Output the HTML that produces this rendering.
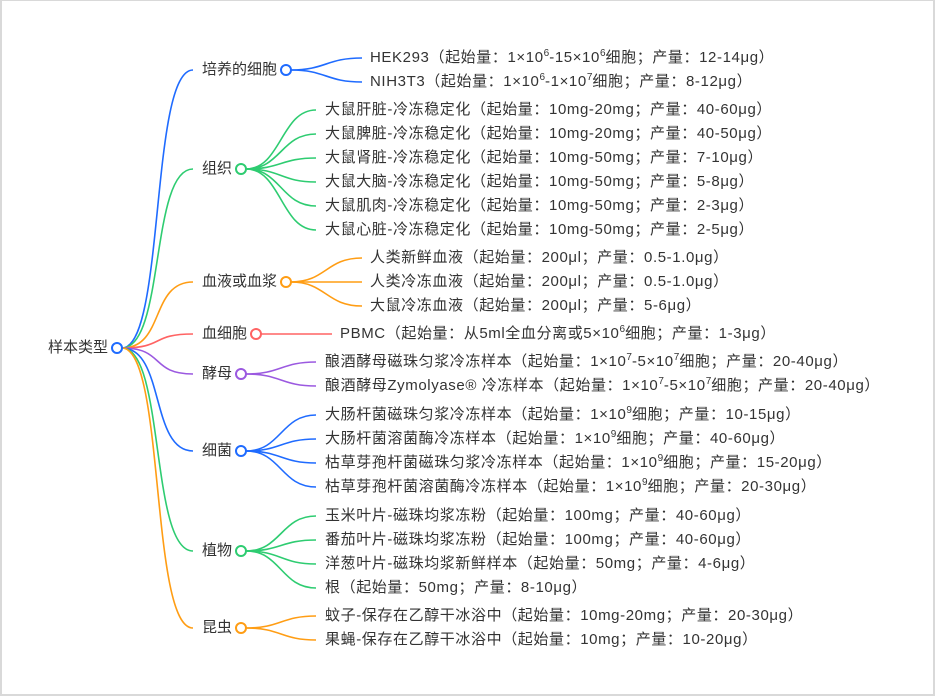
<!DOCTYPE html>
<html><head><meta charset="utf-8"><style>
body{margin:0;width:935px;height:699px;background:#fff;position:relative;overflow:hidden;font-family:"Liberation Sans","Noto Sans CJK SC",sans-serif;}
.f{position:absolute;left:0;top:0;width:931px;height:693px;border:2px solid #d9d9d9;border-top-width:1px;}
.t{position:absolute;font-size:15px;line-height:20px;color:#333;white-space:nowrap;}
.l{letter-spacing:0.6px;}
sup{font-size:10px;vertical-align:0;position:relative;top:-6px;letter-spacing:0;}
svg{position:absolute;left:0;top:0;}
</style></head><body>
<div class="f"></div>
<svg width="935" height="699" fill="none" stroke-width="1.6">
<g>
<path d="M122,348 C165,348 150,70 193,70" stroke="#1f6bff"/>
<path d="M122,348 C165,348 150,169 193,169" stroke="#2ecc71"/>
<path d="M122,348 C165,348 150,282 193,282" stroke="#ff9d14"/>
<path d="M122,348 C165,348 150,334 193,334" stroke="#ff6363"/>
<path d="M122,348 C165,348 150,374 193,374" stroke="#9b59e0"/>
<path d="M122,348 C165,348 150,451 193,451" stroke="#1f6bff"/>
<path d="M122,348 C165,348 150,551 193,551" stroke="#2ecc71"/>
<path d="M122,348 C165,348 150,628 193,628" stroke="#ff9d14"/>
</g>
<g stroke="#1f6bff">
<path d="M291,70 C326,70 326,58 362,58"/><path d="M291,70 C326,70 326,82 362,82"/>
</g>
<g stroke="#2ecc71">
<path d="M246,169 C281,169 281,110 316,110"/><path d="M246,169 C281,169 281,134 316,134"/><path d="M246,169 C281,169 281,158 316,158"/><path d="M246,169 C281,169 281,182 316,182"/><path d="M246,169 C281,169 281,206 316,206"/><path d="M246,169 C281,169 281,230 316,230"/>
</g>
<g stroke="#ff9d14">
<path d="M291,282 C326,282 326,258 362,258"/><path d="M291,282 L362,282"/><path d="M291,282 C326,282 326,306 362,306"/>
</g>
<path d="M261,334 L332,334" stroke="#ff6363"/>
<g stroke="#9b59e0">
<path d="M246,374 C281,374 281,362 316,362"/><path d="M246,374 C281,374 281,386 316,386"/>
</g>
<g stroke="#1f6bff">
<path d="M246,451 C281,451 281,415 316,415"/><path d="M246,451 C281,451 281,439 316,439"/><path d="M246,451 C281,451 281,463 316,463"/><path d="M246,451 C281,451 281,487 316,487"/>
</g>
<g stroke="#2ecc71">
<path d="M246,551 C281,551 281,516 316,516"/><path d="M246,551 C281,551 281,540 316,540"/><path d="M246,551 C281,551 281,564 316,564"/><path d="M246,551 C281,551 281,588 316,588"/>
</g>
<g stroke="#ff9d14">
<path d="M246,628 C281,628 281,616 316,616"/><path d="M246,628 C281,628 281,640 316,640"/>
</g>
<g fill="#fff" stroke-width="2">
<circle cx="117" cy="348" r="5" stroke="#1f6bff"/>
<circle cx="286" cy="70" r="5" stroke="#1f6bff"/>
<circle cx="241" cy="169" r="5" stroke="#2ecc71"/>
<circle cx="286" cy="282" r="5" stroke="#ff9d14"/>
<circle cx="256" cy="334" r="5" stroke="#ff6363"/>
<circle cx="241" cy="374" r="5" stroke="#9b59e0"/>
<circle cx="241" cy="451" r="5" stroke="#1f6bff"/>
<circle cx="241" cy="551" r="5" stroke="#2ecc71"/>
<circle cx="241" cy="628" r="5" stroke="#ff9d14"/>
</g>
</svg>
<div class="t" style="left:48px;top:338px">样本类型</div>
<div class="t" style="left:202px;top:60px">培养的细胞</div>
<div class="t" style="left:202px;top:159px">组织</div>
<div class="t" style="left:202px;top:272px">血液或血浆</div>
<div class="t" style="left:202px;top:324px">血细胞</div>
<div class="t" style="left:202px;top:364px">酵母</div>
<div class="t" style="left:202px;top:441px">细菌</div>
<div class="t" style="left:202px;top:541px">植物</div>
<div class="t" style="left:202px;top:618px">昆虫</div>

<div class="t l" style="left:370px;top:48px">HEK293（起始量：1×10<sup>6</sup>-15×10<sup>6</sup>细胞；产量：12-14μg）</div>
<div class="t l" style="left:370px;top:72px">NIH3T3（起始量：1×10<sup>6</sup>-1×10<sup>7</sup>细胞；产量：8-12μg）</div>
<div class="t l" style="left:325px;top:100px">大鼠肝脏-冷冻稳定化（起始量：10mg-20mg；产量：40-60μg）</div>
<div class="t l" style="left:325px;top:124px">大鼠脾脏-冷冻稳定化（起始量：10mg-20mg；产量：40-50μg）</div>
<div class="t l" style="left:325px;top:148px">大鼠肾脏-冷冻稳定化（起始量：10mg-50mg；产量：7-10μg）</div>
<div class="t l" style="left:325px;top:172px">大鼠大脑-冷冻稳定化（起始量：10mg-50mg；产量：5-8μg）</div>
<div class="t l" style="left:325px;top:196px">大鼠肌肉-冷冻稳定化（起始量：10mg-50mg；产量：2-3μg）</div>
<div class="t l" style="left:325px;top:220px">大鼠心脏-冷冻稳定化（起始量：10mg-50mg；产量：2-5μg）</div>
<div class="t l" style="left:370px;top:248px">人类新鲜血液（起始量：200μl；产量：0.5-1.0μg）</div>
<div class="t l" style="left:370px;top:272px">人类冷冻血液（起始量：200μl；产量：0.5-1.0μg）</div>
<div class="t l" style="left:370px;top:296px">大鼠冷冻血液（起始量：200μl；产量：5-6μg）</div>
<div class="t l" style="left:340px;top:324px">PBMC（起始量：从5ml全血分离或5×10<sup>6</sup>细胞；产量：1-3μg）</div>
<div class="t l" style="left:325px;top:352px">酿酒酵母磁珠匀浆冷冻样本（起始量：1×10<sup>7</sup>-5×10<sup>7</sup>细胞；产量：20-40μg）</div>
<div class="t l" style="left:325px;top:376px">酿酒酵母Zymolyase® 冷冻样本（起始量：1×10<sup>7</sup>-5×10<sup>7</sup>细胞；产量：20-40μg）</div>
<div class="t l" style="left:325px;top:405px">大肠杆菌磁珠匀浆冷冻样本（起始量：1×10<sup>9</sup>细胞；产量：10-15μg）</div>
<div class="t l" style="left:325px;top:429px">大肠杆菌溶菌酶冷冻样本（起始量：1×10<sup>9</sup>细胞；产量：40-60μg）</div>
<div class="t l" style="left:325px;top:453px">枯草芽孢杆菌磁珠匀浆冷冻样本（起始量：1×10<sup>9</sup>细胞；产量：15-20μg）</div>
<div class="t l" style="left:325px;top:477px">枯草芽孢杆菌溶菌酶冷冻样本（起始量：1×10<sup>9</sup>细胞；产量：20-30μg）</div>
<div class="t l" style="left:325px;top:506px">玉米叶片-磁珠均浆冻粉（起始量：100mg；产量：40-60μg）</div>
<div class="t l" style="left:325px;top:530px">番茄叶片-磁珠均浆冻粉（起始量：100mg；产量：40-60μg）</div>
<div class="t l" style="left:325px;top:554px">洋葱叶片-磁珠均浆新鲜样本（起始量：50mg；产量：4-6μg）</div>
<div class="t l" style="left:325px;top:578px">根（起始量：50mg；产量：8-10μg）</div>
<div class="t l" style="left:325px;top:606px">蚊子-保存在乙醇干冰浴中（起始量：10mg-20mg；产量：20-30μg）</div>
<div class="t l" style="left:325px;top:630px">果蝇-保存在乙醇干冰浴中（起始量：10mg；产量：10-20μg）</div>
</body></html>
